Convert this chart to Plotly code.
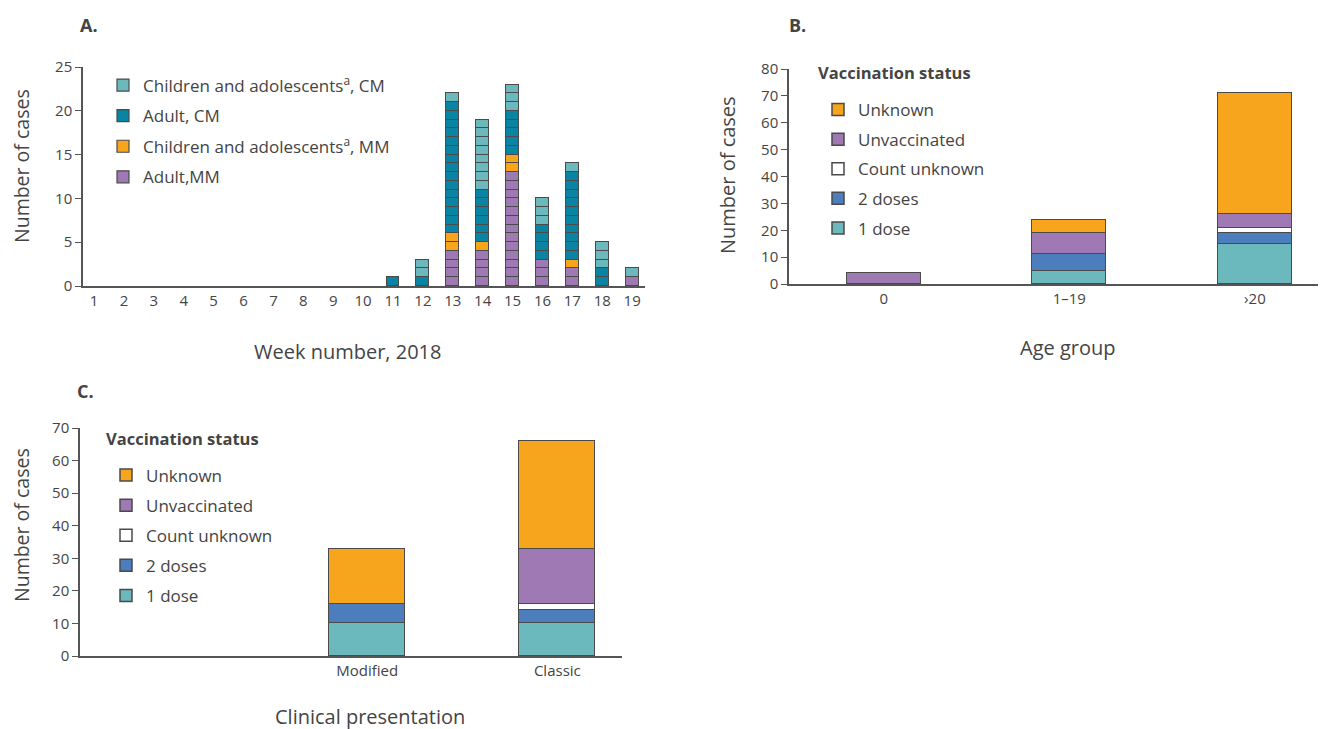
import plotly.graph_objects as go

# ---------------- data ----------------
weeks = list(range(1, 20))
adult_mm = [0]*12 + [4, 4, 13, 3, 2, 0, 1]
child_mm = [0]*12 + [2, 1, 2, 0, 1, 0, 0]
adult_cm = [0]*10 + [1, 1, 15, 6, 5, 4, 10, 2, 0]
child_cm = [0]*11 + [2, 1, 8, 3, 3, 1, 3, 1]

age_groups = ["0", "1–19", "›20"]
b_one_dose = [0, 5, 15]
b_two_doses = [0, 6, 4]
b_count_unknown = [0, 0, 2]
b_unvaccinated = [4, 8, 5]
b_unknown = [0, 5, 45]

presentations = ["Modified", "Classic"]
c_one_dose = [10, 10]
c_two_doses = [6, 4]
c_count_unknown = [0, 2]
c_unvaccinated = [0, 17]
c_unknown = [17, 33]

# ---------------- style ----------------
FONT = "Open Sans"
TXT = "#444444"
EDGE = "#4a4a4a"
LIGHT_TEAL = "#6BB9BD"
DARK_TEAL = "#0A84A3"
ORANGE = "#F6A51D"
PURPLE = "#9F79B4"
BLUE = "#4C7EBD"
WHITE = "#FFFFFF"

W, H = 1339, 729
OFF = 8  # page body margin offset
def px(x):
    return (x - OFF) / W
def py(y):
    return 1 - (y - OFF) / H

fig = go.Figure()

# ---------- Panel A: unit cells ----------
a_series = [
    ("Adult,MM", adult_mm, PURPLE, 4),
    ("Children and adolescents<sup>a</sup>, MM", child_mm, ORANGE, 3),
    ("Adult, CM", adult_cm, DARK_TEAL, 2),
    ("Children and adolescents<sup>a</sup>, CM", child_cm, LIGHT_TEAL, 1),
]
for gi, (name, counts, col, rank) in enumerate(a_series):
    for j in range(max(counts)):
        ys = [1 if c > j else None for c in counts]
        fig.add_trace(go.Bar(
            x=weeks, y=ys, name=name, legendgroup=f"a{gi}", legendrank=rank,
            showlegend=(j == 0), legend="legend",
            marker=dict(color=col, line=dict(color=EDGE, width=1.2)),
            width=0.43, xaxis="x", yaxis="y", hoverinfo="skip"))

# ---------- Panel B ----------
vacc_names = ["1 dose", "2 doses", "Count unknown", "Unvaccinated", "Unknown"]
vacc_cols = [LIGHT_TEAL, BLUE, WHITE, PURPLE, ORANGE]
vacc_rank = [5, 4, 3, 2, 1]
b_vals = [b_one_dose, b_two_doses, b_count_unknown, b_unvaccinated, b_unknown]
for i, (nm, col, vals) in enumerate(zip(vacc_names, vacc_cols, b_vals)):
    fig.add_trace(go.Bar(
        x=age_groups, y=[v if v else None for v in vals], name=nm,
        legendgroup=f"b{i}", legendrank=vacc_rank[i], legend="legend2",
        marker=dict(color=col, line=dict(color=EDGE, width=1.5)),
        width=0.40, xaxis="x2", yaxis="y2"))

# ---------- Panel C ----------
c_vals = [c_one_dose, c_two_doses, c_count_unknown, c_unvaccinated, c_unknown]
for i, (nm, col, vals) in enumerate(zip(vacc_names, vacc_cols, c_vals)):
    fig.add_trace(go.Bar(
        x=presentations, y=[v if v else None for v in vals], name=nm,
        legendgroup=f"c{i}", legendrank=vacc_rank[i], legend="legend3",
        marker=dict(color=col, line=dict(color=EDGE, width=1.5)),
        width=0.40, xaxis="x3", yaxis="y3"))

axis_common = dict(showgrid=False, zeroline=False, showline=True,
                   linecolor="#555555", linewidth=1.5, automargin=False,
                   tickfont=dict(family=FONT, size=15, color=TXT))
yaxis_common = dict(ticks="outside", ticklen=6, tickcolor="#555555", tickwidth=1.3)

leg_font = dict(family=FONT, size=17, color=TXT)

fig.update_layout(
    width=W, height=H, barmode="stack", bargap=0,
    paper_bgcolor="white", plot_bgcolor="white",
    margin=dict(l=0, r=0, t=0, b=0, autoexpand=False),
    font=dict(family=FONT, color=TXT),
    xaxis=dict(domain=[px(83), px(645)], range=[0.63, 19.43],
               tickmode="array", tickvals=weeks, ticks="", anchor="y",
               **axis_common),
    yaxis=dict(domain=[py(286), py(67)], range=[0, 25], dtick=5,
               anchor="x", **yaxis_common, **axis_common),
    xaxis2=dict(domain=[px(789), px(1318)], range=[-0.51, 2.34],
                type="category", ticks="", anchor="y2", **axis_common),
    yaxis2=dict(domain=[py(284), py(69)], range=[0, 80], dtick=10,
                anchor="x2", **yaxis_common, **axis_common),
    xaxis3=dict(domain=[px(80), px(622)], range=[-1.51, 1.34],
                type="category", ticks="", anchor="y3", **axis_common),
    yaxis3=dict(domain=[py(656), py(428)], range=[0, 70], dtick=10,
                anchor="x3", **yaxis_common, **axis_common),
    legend=dict(x=px(103), y=py(67.5), xanchor="left", yanchor="top",
                traceorder="grouped", tracegroupgap=5.5,
                font=leg_font, bgcolor="rgba(0,0,0,0)"),
    legend2=dict(x=px(818), y=py(92), xanchor="left", yanchor="top",
                 traceorder="grouped", tracegroupgap=4.5,
                 font=leg_font, bgcolor="rgba(0,0,0,0)"),
    legend3=dict(x=px(106), y=py(457.5), xanchor="left", yanchor="top",
                 traceorder="grouped", tracegroupgap=5,
                 font=leg_font, bgcolor="rgba(0,0,0,0)"),
)

def ann(text, x, y, size=20, angle=0, bold=False, xanchor="center"):
    fig.add_annotation(text=f"<b>{text}</b>" if bold else text,
                       x=px(x), y=py(y), xref="paper", yref="paper",
                       xanchor=xanchor, yanchor="middle",
                       showarrow=False, textangle=angle,
                       font=dict(family=FONT, size=size, color=TXT))

ann("A.", 89, 25, size=18, bold=True)
ann("B.", 797, 25, size=18, bold=True)
ann("C.", 85, 391, size=18, bold=True)
ann("Vaccination status", 816, 72, size=16.5, bold=True, xanchor="left")
ann("Vaccination status", 104, 438, size=16.5, bold=True, xanchor="left")
ann("Number of cases", 21, 166, size=19.5, angle=-90)
ann("Week number, 2018", 347, 351)
ann("Number of cases", 727, 175, angle=-90)
ann("Age group", 1068, 347)
ann("Number of cases", 21, 525, size=19.5, angle=-90)
ann("Clinical presentation", 370, 716)

fig.write_html("out.html")
